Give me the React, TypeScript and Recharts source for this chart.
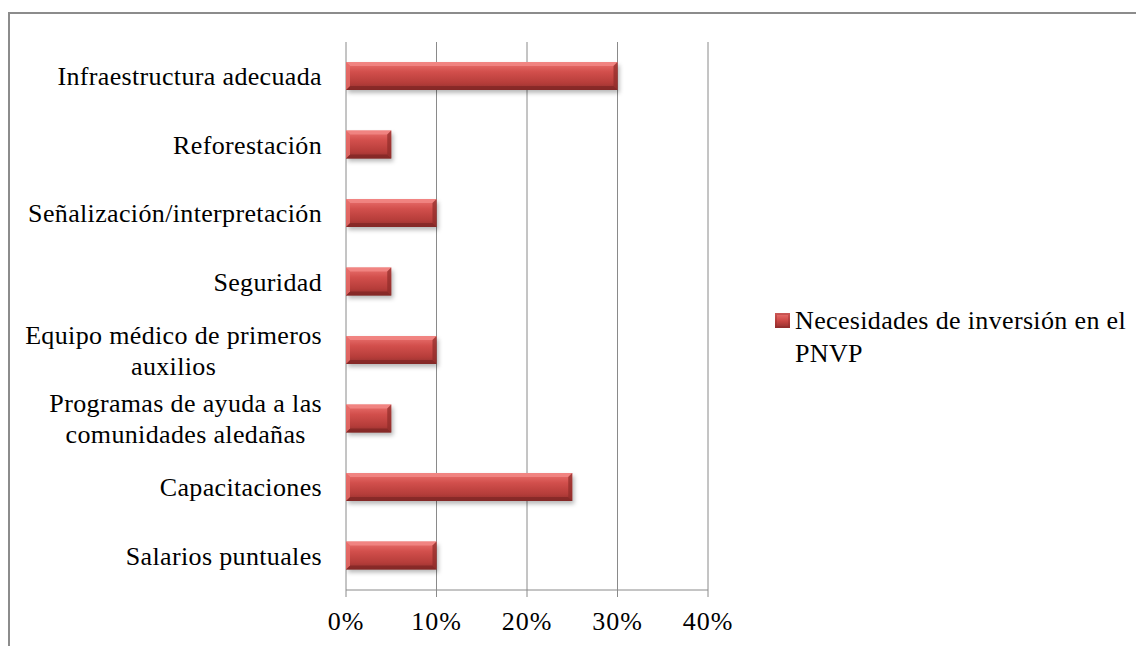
import React from "react";
import { BarChart, Bar, XAxis, YAxis, CartesianGrid } from "recharts";

const categories = [
  "Infraestructura adecuada",
  "Reforestación",
  "Señalización/interpretación",
  "Seguridad",
  "Equipo médico de primeros\nauxilios",
  "Programas de ayuda a las\ncomunidades aledañas",
  "Capacitaciones",
  "Salarios puntuales",
];
const values = [0.3, 0.05, 0.1, 0.05, 0.1, 0.05, 0.25, 0.1];
const xTicks = [0, 0.1, 0.2, 0.3, 0.4];
const boundaryTicks = [0, 1, 2, 3, 4, 5, 6, 7, 8];
const seriesName = "Necesidades de inversión en el";
const seriesName2 = "PNVP";

const FONT = '"Liberation Serif", "Times New Roman", serif';
const FS = 26;
const LS = 0.35;
const GRAY = "#8a8a8a";

const rows = categories.map((name, i) => ({ name, value: values[i] }));

let ctx: CanvasRenderingContext2D | null = null;
function textWidth(s: string) {
  if (!ctx) ctx = document.createElement("canvas").getContext("2d");
  if (!ctx) return s.length * FS * 0.45;
  ctx.font = `${FS}px ${FONT}`;
  return ctx.measureText(s).width + s.length * LS;
}

function CategoryTick({ x, y, payload }: any) {
  const lines = String(payload.value).split("\n");
  const widest = Math.max(...lines.map(textWidth));
  const cx = x - widest / 2;
  const step = 31;
  const first = y - ((lines.length - 1) * step) / 2;
  return (
    <g>
      {lines.map((l, i) => (
        <text
          key={i}
          x={cx}
          y={first + i * step}
          dy="0.35em"
          textAnchor="middle"
          fontFamily={FONT}
          fontSize={FS}
          letterSpacing={LS}
          fill="#000"
        >
          {l}
        </text>
      ))}
    </g>
  );
}

function BevelBar({ x, y, width, height }: any) {
  if (!width || width <= 0) return null;
  const b = Math.min(4, width / 2);
  return (
    <g>
      <rect x={x + 2} y={y + 3} width={width} height={height} fill="rgba(0,0,0,0.28)" filter="url(#barShadow)" />
      <rect x={x} y={y} width={width} height={height} fill="url(#barGrad)" />
      <polygon
        points={`${x},${y} ${x + width},${y} ${x + width - b},${y + b} ${x + b},${y + b}`}
        fill="#f28a87"
        opacity={0.8}
      />
      <polygon
        points={`${x},${y + height} ${x + width},${y + height} ${x + width - b},${y + height - b} ${x + b},${y + height - b}`}
        fill="#7d2523"
        opacity={0.7}
      />
      <polygon
        points={`${x},${y} ${x + b},${y + b} ${x + b},${y + height - b} ${x},${y + height}`}
        fill="#e86f6c"
        opacity={0.8}
      />
      <polygon
        points={`${x + width},${y} ${x + width - b},${y + b} ${x + width - b},${y + height - b} ${x + width},${y + height}`}
        fill="#8e2c2a"
        opacity={0.7}
      />
    </g>
  );
}

export default function App() {
  return (
    <div
      style={{
        position: "fixed",
        left: 0,
        top: 0,
        width: 1136,
        height: 646,
        overflow: "hidden",
        background: "#fff",
      }}
    >
      <div
        style={{
          position: "absolute",
          left: 8,
          top: 12,
          width: 1200,
          height: 700,
          border: "2px solid #8c8c8c",
        }}
      />
      <div style={{ position: "absolute", left: 0, top: 0 }}>
        <BarChart
          width={1136}
          height={646}
          data={rows}
          layout="vertical"
          margin={{ top: 42, right: 428, bottom: 16, left: 0 }}
          barCategoryGap="0%"
        >
          <defs>
            <linearGradient id="barGrad" x1="0" y1="0" x2="0" y2="1">
              <stop offset="0%" stopColor="#ec7370" />
              <stop offset="35%" stopColor="#d24f4c" />
              <stop offset="75%" stopColor="#b63d3a" />
              <stop offset="100%" stopColor="#93302e" />
            </linearGradient>
            <filter id="barShadow" x="-10%" y="-30%" width="120%" height="180%">
              <feGaussianBlur stdDeviation="2" />
            </filter>
          </defs>
          <CartesianGrid horizontal={false} stroke={GRAY} strokeWidth={1} yAxisId="cat" />
          <XAxis
            type="number"
            domain={[0, 0.4]}
            ticks={xTicks}
            tickFormatter={(v) => `${Math.round(Number(v) * 100)}%`}
            height={40}
            tickSize={7}
            tickMargin={15}
            stroke={GRAY}
            tick={{ fill: "#000", fontSize: FS, fontFamily: FONT, letterSpacing: 1 }}
            allowDataOverflow
          />
          <YAxis
            yAxisId="cat"
            type="category"
            dataKey="name"
            width={346}
            tickSize={0}
            tickMargin={24}
            tickLine={false}
            axisLine={false}
            interval={0}
            tick={<CategoryTick />}
          />
          <YAxis
            yAxisId="grid"
            type="number"
            domain={[0, 8]}
            ticks={boundaryTicks}
            width={0}
            tickSize={8}
            stroke={GRAY}
            tick={() => <g />}
            allowDataOverflow
          />
          <Bar
            yAxisId="cat"
            dataKey="value"
            name={seriesName}
            barSize={28}
            shape={<BevelBar />}
            isAnimationActive={false}
          />
        </BarChart>
      </div>
      <div
        style={{
          position: "absolute",
          left: 775,
          top: 304,
          display: "flex",
          alignItems: "flex-start",
          fontFamily: FONT,
          fontSize: FS,
          letterSpacing: LS,
          lineHeight: "33px",
          color: "#000",
        }}
      >
        <div
          style={{
            width: 15,
            height: 15,
            marginTop: 9,
            marginRight: 5,
            background: "linear-gradient(#ec7370, #c84542 55%, #93302e)",
            boxShadow: "inset 0 0 0 2px rgba(140,40,40,0.35)",
            flex: "none",
          }}
        />
        <div style={{ whiteSpace: "nowrap" }}>
          <div>{seriesName}</div>
          <div>{seriesName2}</div>
        </div>
      </div>
    </div>
  );
}
